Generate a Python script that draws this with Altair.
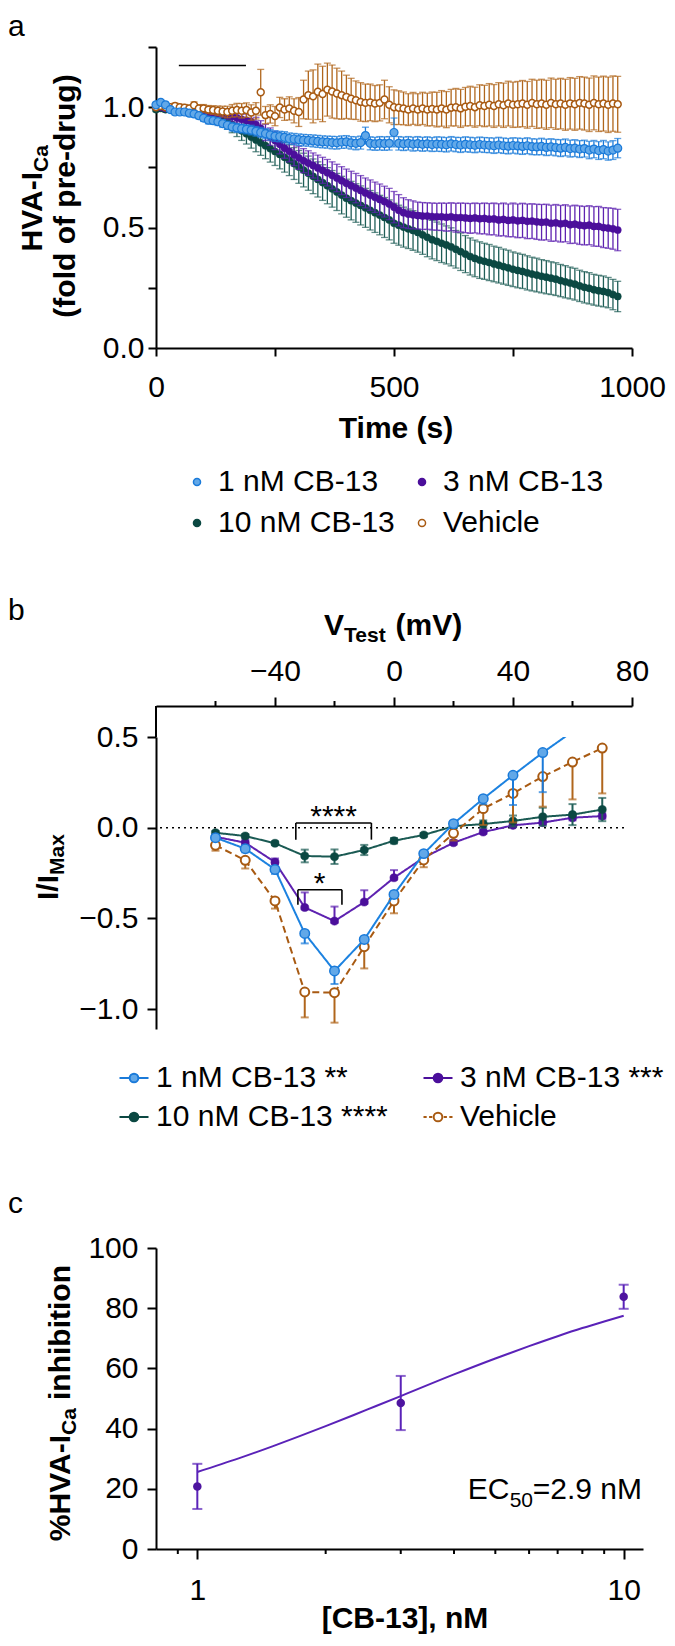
import altair as alt
import pandas as pd
import numpy as np

FONT = "Liberation Sans"
SERIES = ["1 nM CB-13", "3 nM CB-13", "10 nM CB-13", "Vehicle"]
SERIES_B = ["1 nM CB-13 **", "3 nM CB-13 ***", "10 nM CB-13 ****", "Vehicle"]
FILL = ["#62A8E8", "#4B0F9B", "#0B4842", "#FFFFFF"]
STROKE = ["#1A7AD9", "#4B0F9B", "#0B4842", "#A85A12"]
ERRC = ["#1A7AD9", "#5E22B0", "#1F5E57", "#B0661C"]
LINEC = ["#1C82E0", "#5E22B0", "#1A5A53", "#A85A12"]

# ---------------- Panel a: time course ----------------
time_s = list(range(0, 980, 10))
a_1nM = [1.01, 1.02, 1.01, 0.99, 0.98, 0.98, 0.98, 0.975, 0.972, 0.965,
         0.955, 0.946, 0.944, 0.94, 0.932, 0.925, 0.918, 0.914, 0.911, 0.908,
         0.905, 0.90, 0.895, 0.89, 0.885, 0.88, 0.878, 0.875, 0.87, 0.868,
         0.865, 0.863, 0.862, 0.86, 0.858, 0.856, 0.855, 0.853, 0.852, 0.855,
         0.856, 0.852, 0.85, 0.853, 0.882, 0.85, 0.848, 0.85, 0.849, 0.85,
         0.895, 0.85, 0.848, 0.85, 0.847, 0.849, 0.846, 0.848, 0.845, 0.847,
         0.846, 0.844, 0.848, 0.845, 0.843, 0.846, 0.844, 0.842, 0.845, 0.843,
         0.842, 0.84, 0.843, 0.84, 0.838, 0.841, 0.839, 0.837, 0.84, 0.836,
         0.835, 0.837, 0.833, 0.835, 0.832, 0.83, 0.833, 0.828, 0.83, 0.826,
         0.828, 0.822, 0.826, 0.82, 0.824, 0.818, 0.822, 0.83]
a_1nM_err = [0.01, 0.012, 0.01, 0.01, 0.012, 0.01, 0.012, 0.012, 0.013, 0.013,
             0.014, 0.015, 0.015, 0.016, 0.016, 0.017, 0.017, 0.018, 0.018, 0.019,
             0.02, 0.02, 0.021, 0.021, 0.022, 0.022, 0.022, 0.023, 0.023, 0.023,
             0.024, 0.024, 0.024, 0.025, 0.025, 0.025, 0.025, 0.026, 0.026, 0.026,
             0.026, 0.026, 0.027, 0.027, 0.035, 0.027, 0.027, 0.028, 0.028, 0.028,
             0.06, 0.028, 0.028, 0.028, 0.029, 0.029, 0.029, 0.029, 0.029, 0.03,
             0.03, 0.03, 0.03, 0.03, 0.031, 0.031, 0.031, 0.031, 0.031, 0.031,
             0.031, 0.032, 0.032, 0.032, 0.032, 0.032, 0.033, 0.033, 0.033, 0.033,
             0.033, 0.034, 0.034, 0.034, 0.034, 0.035, 0.035, 0.035, 0.035, 0.035,
             0.035, 0.036, 0.036, 0.037, 0.038, 0.038, 0.039, 0.04]
a_3nM = [1.0, 1.0, 0.995, 0.995, 0.99, 0.99, 0.99, 0.988, 0.985, 0.985,
         0.983, 0.98, 0.978, 0.975, 0.972, 0.968, 0.962, 0.956, 0.95, 0.945,
         0.94, 0.928, 0.912, 0.895, 0.878, 0.862, 0.846, 0.83, 0.817, 0.803,
         0.79, 0.778, 0.768, 0.758, 0.748, 0.738, 0.728, 0.717, 0.706, 0.695,
         0.684, 0.674, 0.664, 0.654, 0.644, 0.635, 0.626, 0.617, 0.608, 0.598,
         0.585, 0.572, 0.562, 0.556, 0.553, 0.55, 0.548, 0.548, 0.546, 0.545,
         0.545, 0.543, 0.545, 0.541, 0.542, 0.54, 0.538, 0.54, 0.537, 0.538,
         0.535, 0.536, 0.532, 0.534, 0.53, 0.532, 0.528, 0.53, 0.526, 0.527,
         0.524, 0.522, 0.523, 0.518, 0.52, 0.516, 0.518, 0.512, 0.514, 0.51,
         0.508, 0.51, 0.505, 0.505, 0.5, 0.498, 0.495, 0.49]
a_3nM_err = [0.008, 0.008, 0.009, 0.009, 0.01, 0.01, 0.01, 0.011, 0.011, 0.012,
             0.012, 0.013, 0.014, 0.015, 0.016, 0.018, 0.02, 0.022, 0.024, 0.026,
             0.028, 0.03, 0.032, 0.034, 0.036, 0.038, 0.04, 0.042, 0.044, 0.046,
             0.048, 0.05, 0.051, 0.052, 0.053, 0.054, 0.055, 0.056, 0.057, 0.058,
             0.059, 0.06, 0.061, 0.062, 0.062, 0.063, 0.063, 0.064, 0.064, 0.065,
             0.065, 0.065, 0.062, 0.06, 0.058, 0.056, 0.056, 0.055, 0.056, 0.056,
             0.057, 0.058, 0.058, 0.06, 0.06, 0.061, 0.062, 0.062, 0.063, 0.064,
             0.065, 0.066, 0.067, 0.068, 0.068, 0.07, 0.07, 0.071, 0.072, 0.072,
             0.073, 0.074, 0.074, 0.075, 0.076, 0.076, 0.077, 0.078, 0.079, 0.08,
             0.08, 0.081, 0.082, 0.083, 0.083, 0.084, 0.085, 0.086]
a_10nM = [0.99, 0.995, 0.99, 0.99, 0.988, 0.985, 0.985, 0.982, 0.98, 0.978,
          0.975, 0.972, 0.968, 0.96, 0.95, 0.94, 0.928, 0.915, 0.902, 0.89,
          0.876, 0.864, 0.852, 0.84, 0.828, 0.816, 0.804, 0.792, 0.78, 0.766,
          0.752, 0.739, 0.726, 0.713, 0.70, 0.687, 0.674, 0.661, 0.648, 0.635,
          0.622, 0.612, 0.602, 0.592, 0.582, 0.572, 0.562, 0.552, 0.542, 0.532,
          0.518, 0.51, 0.502, 0.495, 0.488, 0.48, 0.47, 0.46, 0.45, 0.443,
          0.435, 0.428, 0.42, 0.41, 0.40, 0.39, 0.38, 0.372, 0.365, 0.36,
          0.355, 0.349, 0.344, 0.338, 0.333, 0.327, 0.322, 0.318, 0.312, 0.307,
          0.303, 0.298, 0.294, 0.29, 0.286, 0.28, 0.275, 0.27, 0.265, 0.258,
          0.252, 0.248, 0.242, 0.238, 0.235, 0.23, 0.222, 0.214]
a_10nM_err = [0.008, 0.009, 0.01, 0.01, 0.011, 0.012, 0.013, 0.014, 0.015, 0.016,
              0.018, 0.02, 0.022, 0.025, 0.028, 0.031, 0.034, 0.037, 0.04, 0.043,
              0.046, 0.049, 0.052, 0.054, 0.056, 0.058, 0.06, 0.062, 0.064, 0.066,
              0.068, 0.07, 0.071, 0.072, 0.073, 0.074, 0.075, 0.076, 0.077, 0.078,
              0.079, 0.08, 0.08, 0.081, 0.081, 0.082, 0.082, 0.082, 0.083, 0.083,
              0.083, 0.083, 0.083, 0.082, 0.082, 0.082, 0.081, 0.081, 0.08, 0.08,
              0.08, 0.079, 0.079, 0.078, 0.078, 0.077, 0.077, 0.076, 0.076, 0.075,
              0.075, 0.074, 0.074, 0.073, 0.073, 0.072, 0.072, 0.071, 0.071, 0.07,
              0.07, 0.069, 0.069, 0.068, 0.068, 0.067, 0.067, 0.066, 0.066, 0.065,
              0.065, 0.065, 0.064, 0.064, 0.064, 0.063, 0.063, 0.063]
a_veh = [1.0, 1.005, 1.0, 1.0, 1.005, 1.0, 0.998, 0.995, 1.008, 0.995,
         0.995, 0.99, 0.988, 0.985, 0.982, 0.98, 0.985, 0.988, 0.985, 0.988,
         0.978, 0.985, 1.062, 0.967, 0.972, 0.963, 0.999, 0.99, 0.995, 0.985,
         0.98, 1.032, 1.05, 1.045, 1.064, 1.055, 1.073, 1.065, 1.057, 1.05,
         1.043, 1.035, 1.029, 1.022, 1.018, 1.02, 1.015, 1.018, 1.032, 1.01,
         1.0, 0.998, 0.995, 0.99, 0.995, 0.99, 0.995, 0.99, 0.993, 0.99,
         0.995, 0.99, 0.998, 1.0, 0.995, 1.002, 1.005, 1.0, 1.008, 1.005,
         1.01, 1.005, 1.012, 1.008, 1.015, 1.01, 1.012, 1.015, 1.01, 1.018,
         1.012, 1.015, 1.01, 1.018, 1.012, 1.015, 1.01, 1.016, 1.012, 1.018,
         1.015, 1.01, 1.018, 1.012, 1.015, 1.01, 1.015, 1.012]
a_veh_err = [0.005, 0.008, 0.01, 0.01, 0.012, 0.012, 0.013, 0.013, 0.014, 0.015,
             0.016, 0.017, 0.018, 0.02, 0.022, 0.024, 0.026, 0.028, 0.03, 0.03,
             0.032, 0.034, 0.095, 0.036, 0.038, 0.04, 0.042, 0.045, 0.048, 0.05,
             0.06, 0.08, 0.1, 0.11, 0.115, 0.115, 0.11, 0.11, 0.105, 0.1,
             0.09, 0.085, 0.08, 0.08, 0.078, 0.076, 0.075, 0.075, 0.08, 0.075,
             0.072, 0.07, 0.068, 0.066, 0.066, 0.066, 0.067, 0.068, 0.07, 0.072,
             0.074, 0.075, 0.076, 0.078, 0.079, 0.08, 0.082, 0.083, 0.085, 0.086,
             0.088, 0.089, 0.09, 0.092, 0.093, 0.094, 0.095, 0.096, 0.097, 0.098,
             0.1, 0.101, 0.102, 0.103, 0.104, 0.105, 0.106, 0.107, 0.108, 0.109,
             0.11, 0.111, 0.112, 0.113, 0.114, 0.115, 0.115, 0.116]
drug_start = [48]
drug_end = [189]
drug_level = [1.173]

# ---------------- Panel b: I-V relation ----------------
v_test = [-60, -50, -40, -30, -20, -10, 0, 10, 20, 30, 40, 50, 60, 70]
b_1nM = [-0.055, -0.116, -0.23, -0.583, -0.79, -0.616, -0.368, -0.143, 0.022, 0.16, 0.289, 0.414, 0.53, np.nan]
b_1nM_up = [0, 0, 0, 0, 0, 0, 0, 0, 0, 0, 0, 0, 0, 0]
b_1nM_dn = [0.015, 0.02, 0.025, 0.055, 0.072, 0.02, 0.02, 0.015, 0.02, 0.03, 0.164, 0.218, 0, 0]
b_3nM = [-0.05, -0.083, -0.19, -0.44, -0.515, -0.41, -0.276, -0.165, -0.083, -0.024, 0.013, 0.028, 0.055, 0.064]
b_3nM_up = [0.01, 0.015, 0.02, 0.083, 0.08, 0.065, 0.042, 0.02, 0.015, 0.015, 0.015, 0.015, 0.015, 0.015]
b_3nM_dn = [0.01, 0.01, 0.01, 0.01, 0.01, 0.01, 0.01, 0.01, 0.01, 0.01, 0.01, 0.01, 0.015, 0.015]
b_10nM = [-0.028, -0.046, -0.086, -0.156, -0.16, -0.123, -0.072, -0.04, 0.008, 0.02, 0.037, 0.06, 0.072, 0.1]
b_10nM_up = [0.01, 0.01, 0.01, 0.035, 0.04, 0.028, 0.015, 0.01, 0.01, 0.02, 0.03, 0.05, 0.058, 0.064]
b_10nM_dn = [0.01, 0.01, 0.01, 0.035, 0.04, 0.028, 0.015, 0.01, 0.01, 0.02, 0.03, 0.05, 0.058, 0.064]
b_veh = [-0.097, -0.18, -0.404, -0.906, -0.91, -0.656, -0.404, -0.178, -0.031, 0.105, 0.189, 0.282, 0.362, 0.439]
b_veh_up = [0, 0, 0, 0, 0, 0, 0, 0, 0, 0, 0, 0, 0, 0]
b_veh_dn = [0.03, 0.045, 0.042, 0.14, 0.165, 0.12, 0.068, 0.04, 0.04, 0.09, 0.16, 0.166, 0.206, 0.25]
# significance brackets: x1, x2, top, bottom
br_x1 = [-33.0, -32.3]
br_x2 = [-7.6, -17.5]
br_top = [0.026, -0.342]
br_bot = [-0.066, -0.425]
star_x = [-20.3, -25.0]
star_y = [0.01, -0.36]
star_txt = ["****", "*"]

# ---------------- Panel c: concentration-response ----------------
conc = [1, 3, 10]
inhib = [20.8, 48.5, 83.8]
inhib_err = [7.5, 9.0, 4.0]
fit_x = [1, 1.25, 1.5, 2, 2.5, 3, 4, 5, 6, 7, 8, 9, 10]
fit_y = [25.6, 30.1, 34.1, 40.8, 46.3, 50.8, 58.0, 63.3, 67.4, 70.7, 73.4, 75.6, 77.5]
minor_c = [0.9, 2, 3, 4, 5, 6, 7, 8, 9]
minor_b = [-60, -20, 20, 60]

ONE = pd.DataFrame({"k": [0]})


def txt(s, x, y, size=30, weight="normal", angle=0, align="left", baseline="alphabetic"):
    return alt.Chart(ONE).mark_text(
        text=s, font=FONT, fontSize=size, fontWeight=weight, angle=angle,
        align=align, baseline=baseline, color="black"
    ).encode(x=alt.value(x), y=alt.value(y))


def frame(top, bottom):
    return alt.Chart(ONE).mark_rect(opacity=0).encode(
        x=alt.value(-148), x2=alt.value(511), y=alt.value(top), y2=alt.value(bottom))


# ======== Panel a ========
WA, HA = 476, 301
sx_a = alt.Scale(domain=[0, 1000], nice=False, zero=False)
sy_a = alt.Scale(domain=[0, 1.25], nice=False)
ax_a = alt.Axis(values=[0, 250, 500, 750, 1000], format="d",
                labelExpr="datum.value % 500 == 0 ? datum.label : ''",
                title=None, tickSize=8, labelPadding=16)
ay_a = alt.Axis(values=[0, 0.25, 0.5, 0.75, 1, 1.25],
                labelExpr="(datum.value == 0 || datum.value == 0.5 || datum.value == 1) ? format(datum.value, '.1f') : ''",
                title=None, tickSize=8, labelPadding=4)


def XA(f):
    return alt.X(f"{f}:Q", scale=sx_a, axis=ax_a)


def YA(f):
    return alt.Y(f"{f}:Q", scale=sy_a, axis=ay_a)


means_a = [a_1nM, a_3nM, a_10nM, a_veh]
errs_a = [a_1nM_err, a_3nM_err, a_10nM_err, a_veh_err]
pt_a = [
    dict(fill=FILL[0], stroke=STROKE[0], strokeWidth=1.2, size=64),
    dict(fill=FILL[1], stroke=STROKE[1], strokeWidth=0.5, size=52),
    dict(fill=FILL[2], stroke=STROKE[2], strokeWidth=0.5, size=52),
    dict(fill=FILL[3], stroke=STROKE[3], strokeWidth=1.5, size=48),
]

layers_a = [frame(-39, 513)]
for i in [2, 1, 3, 0]:
    df = pd.DataFrame({"t": time_s, "v": means_a[i], "e": errs_a[i]})
    df["lo"] = df.v - df.e
    df["hi"] = df.v + df.e
    caps = pd.concat([pd.DataFrame({"t": df.t, "c": df.lo}), pd.DataFrame({"t": df.t, "c": df.hi})])
    layers_a.append(alt.Chart(df).mark_rule(color=ERRC[i], strokeWidth=1.3).encode(
        x=XA("t"), y=YA("lo"), y2=alt.Y2("hi")))
    layers_a.append(alt.Chart(caps).mark_tick(orient="horizontal", size=7, thickness=1.3, color=ERRC[i]).encode(
        x=XA("t"), y=YA("c")))
    layers_a.append(alt.Chart(df).mark_point(shape="circle", filled=True, opacity=1, **pt_a[i]).encode(
        x=XA("t"), y=YA("v")))

drug_df = pd.DataFrame({"t0": drug_start, "t1": drug_end, "y": drug_level})
layers_a.append(alt.Chart(drug_df).mark_rule(color="black", strokeWidth=1.5).encode(
    x=XA("t0"), x2=alt.X2("t1"), y=YA("y")))

leg_a = alt.Legend(orient="none", legendX=26, legendY=420, columns=2, direction="horizontal", title=None,
                   symbolType="circle", symbolSize=50, symbolStrokeWidth=1.5,
                   labelFont=FONT, labelFontSize=30, labelColor="black", labelLimit=500,
                   labelOffset=6, columnPadding=12, rowPadding=11, padding=0)
leg_df_a = pd.DataFrame({"series": SERIES, "t": [0] * 4, "v": [1.0] * 4})
layers_a.append(alt.Chart(leg_df_a).mark_point(filled=True, size=0, opacity=1, strokeWidth=1.5).encode(
    x=XA("t"), y=YA("v"),
    fill=alt.Fill("series:N", scale=alt.Scale(domain=SERIES, range=FILL), legend=leg_a),
    stroke=alt.Stroke("series:N", scale=alt.Scale(domain=SERIES, range=STROKE), legend=leg_a)))

layers_a += [
    txt("a", -148, -11),
    txt("HVA-I", -114, 125, weight="bold", angle=270, align="right"),
    txt("Ca", -108, 125, size=21, weight="bold", angle=270, align="left"),
    txt("(fold of pre-drug)", -81, 149, weight="bold", angle=270, align="center"),
    txt("Time (s)", 240, 391, weight="bold", align="center"),
]
pa = alt.layer(*layers_a).properties(width=WA, height=HA)

# ======== Panel b ========
WB, HB = 476, 292
sx_b = alt.Scale(domain=[-80, 80], nice=False, zero=False)
sy_b = alt.Scale(domain=[-1.11, 0.5], nice=False, zero=False)
ax_b = alt.Axis(orient="top", values=[-40, 0, 40, 80], offset=31, tickSize=9,
                labelPadding=11, title=None)
ay_b = alt.Axis(values=[-1, -0.5, 0, 0.5], format=".1f", tickSize=9, labelPadding=9, title=None)


def XB(f):
    return alt.X(f"{f}:Q", scale=sx_b, axis=ax_b)


def YB(f):
    return alt.Y(f"{f}:Q", scale=sy_b, axis=ay_b)


means_b = [b_1nM, b_3nM, b_10nM, b_veh]
ups_b = [b_1nM_up, b_3nM_up, b_10nM_up, b_veh_up]
dns_b = [b_1nM_dn, b_3nM_dn, b_10nM_dn, b_veh_dn]
pt_b = [
    dict(fill=FILL[0], stroke=STROKE[0], strokeWidth=1.5, size=90),
    dict(fill=FILL[1], stroke=STROKE[1], strokeWidth=0.5, size=66),
    dict(fill=FILL[2], stroke=STROKE[2], strokeWidth=0.5, size=66),
    dict(fill=FILL[3], stroke=STROKE[3], strokeWidth=2, size=80),
]
dash_b = [[1, 0], [1, 0], [1, 0], [7, 4]]

layers_b = [frame(-177, 403)]
zero_df = pd.DataFrame({"z": [0.0]})
layers_b.append(alt.Chart(zero_df).mark_rule(color="black", strokeWidth=1.5, strokeDash=[2, 4]).encode(
    x=alt.value(4), x2=alt.value(472), y=YB("z")))

for i in [1, 2, 3, 0]:
    df = pd.DataFrame({"x": v_test, "v": means_b[i], "up": ups_b[i], "dn": dns_b[i]}).dropna()
    df["lo"] = df.v - df.dn
    df["hi"] = df.v + df.up
    caps = pd.concat([
        pd.DataFrame({"x": df.x[df.dn > 0], "c": df.lo[df.dn > 0]}),
        pd.DataFrame({"x": df.x[df.up > 0], "c": df.hi[df.up > 0]}),
    ])
    layers_b.append(alt.Chart(df).mark_line(color=LINEC[i], strokeWidth=2, strokeDash=dash_b[i], clip=True).encode(
        x=XB("x"), y=YB("v")))
    layers_b.append(alt.Chart(df).mark_rule(color=ERRC[i], strokeWidth=2, clip=True).encode(
        x=XB("x"), y=YB("lo"), y2=alt.Y2("hi")))
    layers_b.append(alt.Chart(caps).mark_tick(orient="horizontal", size=8, thickness=2, color=ERRC[i], clip=True).encode(
        x=XB("x"), y=YB("c")))
    layers_b.append(alt.Chart(df).mark_point(shape="circle", filled=True, opacity=1, clip=True, **pt_b[i]).encode(
        x=XB("x"), y=YB("v")))

seg = []
for x1, x2, t, b in zip(br_x1, br_x2, br_top, br_bot):
    seg += [(x1, x2, t, t), (x1, x1, t, b), (x2, x2, t, b)]
seg_df = pd.DataFrame(seg, columns=["x", "x2", "y", "y2"])
layers_b.append(alt.Chart(seg_df).mark_rule(color="black", strokeWidth=1.6).encode(
    x=XB("x"), x2=alt.X2("x2"), y=YB("y"), y2=alt.Y2("y2")))
star_df = pd.DataFrame({"x": star_x, "y": star_y, "s": star_txt})
layers_b.append(alt.Chart(star_df).mark_text(font=FONT, fontSize=30, align="center", baseline="alphabetic",
                                             color="black").encode(x=XB("x"), y=YB("y"), text="s:N"))

layers_b.append(alt.Chart(ONE).mark_rule(color="black", strokeWidth=2).encode(
    x=alt.value(0), y=alt.value(-31), y2=alt.value(0)))
layers_b.append(alt.Chart(pd.DataFrame({"m": minor_b})).mark_rule(color="black", strokeWidth=2).encode(
    x=XB("m"), y=alt.value(-31), y2=alt.value(-36)))

SOLID = "M-1.5,0L-0.45,0M0.45,0L1.5,0M-0.45,0A0.45,0.45,0,1,1,0.45,0A0.45,0.45,0,1,1,-0.45,0Z"
DASH = ("M-1.5,0L-1.17,0M-0.92,0L-0.6,0M0.6,0L0.92,0M1.17,0L1.5,0"
        "M-0.45,0A0.45,0.45,0,1,1,0.45,0A0.45,0.45,0,1,1,-0.45,0Z")
leg_b = alt.Legend(orient="none", legendX=-37, legendY=326, columns=2, direction="horizontal", title=None,
                   symbolSize=374, symbolStrokeWidth=2,
                   labelFont=FONT, labelFontSize=30, labelColor="black", labelLimit=500,
                   labelOffset=7, columnPadding=31, rowPadding=9, padding=0)
leg_df_b = pd.DataFrame({"series": SERIES_B, "x": [0] * 4, "v": [0.0] * 4})
layers_b.append(alt.Chart(leg_df_b).mark_point(filled=True, size=0, opacity=1, strokeWidth=2).encode(
    x=XB("x"), y=YB("v"),
    fill=alt.Fill("series:N", scale=alt.Scale(domain=SERIES_B, range=FILL), legend=leg_b),
    stroke=alt.Stroke("series:N", scale=alt.Scale(domain=SERIES_B, range=STROKE), legend=leg_b),
    shape=alt.Shape("series:N", scale=alt.Scale(domain=SERIES_B, range=[SOLID, SOLID, SOLID, DASH]), legend=leg_b)))

layers_b += [
    txt("b", -148, -117),
    txt("V", 168, -102, weight="bold"),
    txt("Test", 188, -95, size=21, weight="bold"),
    txt("(mV)", 239.5, -102, weight="bold"),
    txt("I/I", -98, 138, weight="bold", angle=270, align="right"),
    txt("Max", -92, 138, size=21, weight="bold", angle=270, align="left"),
]
pb = alt.layer(*layers_b).properties(width=WB, height=HB)

# ======== Panel c ========
WC, HC = 487, 301
sx_c = alt.Scale(type="log", domain=[0.8, 11.1], nice=False)
sy_c = alt.Scale(domain=[0, 100], nice=False)
ax_c = alt.Axis(values=[1, 10], format="d", tickSize=10, labelPadding=16, title=None)
ay_c = alt.Axis(values=[0, 20, 40, 60, 80, 100], format="d", tickSize=9, labelPadding=9, title=None)


def XC(f):
    return alt.X(f"{f}:Q", scale=sx_c, axis=ax_c)


def YC(f):
    return alt.Y(f"{f}:Q", scale=sy_c, axis=ay_c)


layers_c = [frame(-108, 390)]
fit_df = pd.DataFrame({"x": fit_x, "y": fit_y})
layers_c.append(alt.Chart(fit_df).mark_line(color="#5A22B8", strokeWidth=2, interpolate="monotone").encode(
    x=XC("x"), y=YC("y")))
cdf = pd.DataFrame({"x": conc, "y": inhib, "e": inhib_err})
cdf["lo"] = cdf.y - cdf.e
cdf["hi"] = cdf.y + cdf.e
ccaps = pd.concat([pd.DataFrame({"x": cdf.x, "c": cdf.lo}), pd.DataFrame({"x": cdf.x, "c": cdf.hi})])
layers_c.append(alt.Chart(cdf).mark_rule(color="#5A22B8", strokeWidth=2).encode(
    x=XC("x"), y=YC("lo"), y2=alt.Y2("hi")))
layers_c.append(alt.Chart(ccaps).mark_tick(orient="horizontal", size=10, thickness=2, color="#5A22B8").encode(
    x=XC("x"), y=YC("c")))
layers_c.append(alt.Chart(cdf).mark_point(shape="circle", filled=True, opacity=1, size=72, color="#4E14A0").encode(
    x=XC("x"), y=YC("y")))
layers_c.append(alt.Chart(pd.DataFrame({"m": minor_c})).mark_rule(color="black", strokeWidth=2).encode(
    x=XC("m"), y=alt.value(HC), y2=alt.value(HC + 5)))

layers_c += [
    txt("c", -148, -35),
    txt("%HVA-I", -86, 187, weight="bold", angle=270, align="right"),
    txt("Ca", -80, 187, size=21, weight="bold", angle=270, align="left"),
    txt("inhibition", -86, 152, weight="bold", angle=270, align="left"),
    txt("[CB-13], nM", 249, 380, weight="bold", align="center"),
    txt("=2.9 nM", 486, 251, align="right"),
    txt("50", 377, 259, size=21, align="right"),
    txt("EC", 353.5, 251, align="right"),
]
pc = alt.layer(*layers_c).properties(width=WC, height=HC)

chart = alt.vconcat(pa, pb, pc, spacing=0).resolve_scale(
    x="independent", y="independent", fill="independent", stroke="independent", shape="independent"
).resolve_legend(
    fill="independent", stroke="independent", shape="independent"
).properties(padding=0, background="white").configure_view(stroke=None).configure_axis(
    labelFont=FONT, labelFontSize=30, labelColor="black", domainColor="black", tickColor="black",
    domainWidth=2, tickWidth=2, grid=False, labelFlush=False, labelOverlap=False, labelBound=False
)

chart.save("out.html", embed_options={"renderer": "svg", "actions": False})
